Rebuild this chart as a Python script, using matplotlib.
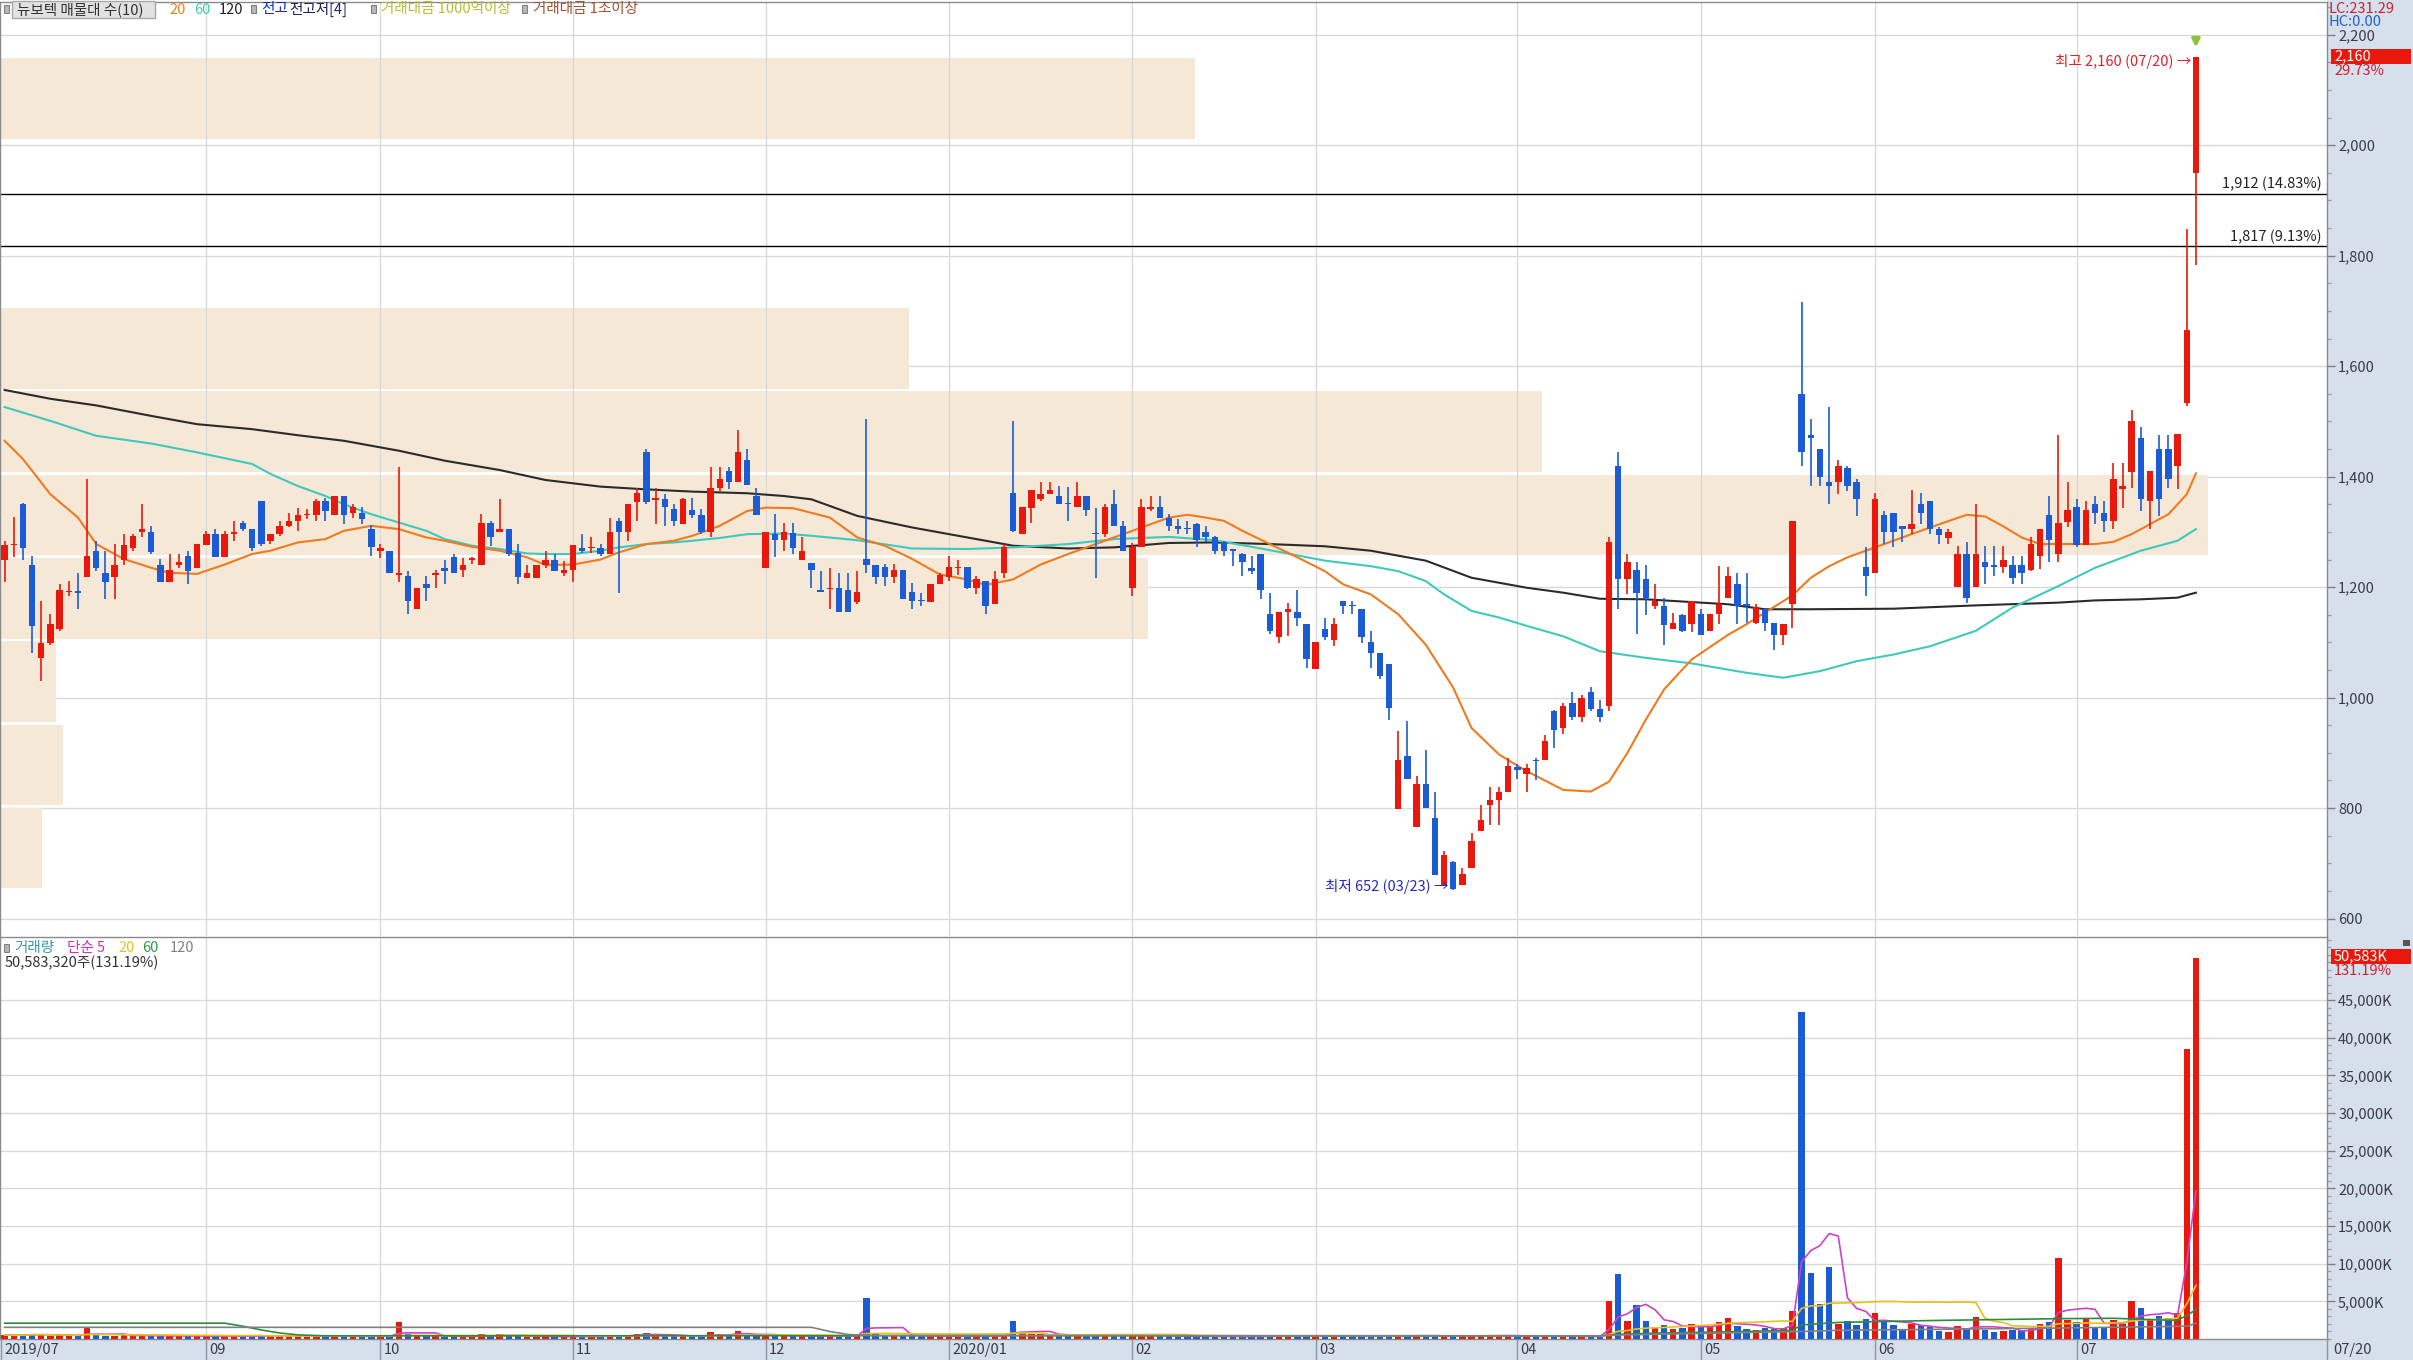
import numpy as np
import pandas as pd
import matplotlib
matplotlib.use("Agg")
import matplotlib.pyplot as plt
from matplotlib.patches import Rectangle
from matplotlib.lines import Line2D
import matplotlib.transforms as mtransforms
from matplotlib.ticker import MultipleLocator, FixedLocator, FuncFormatter

plt.rcParams['font.family'] = ['Noto Sans CJK KR', 'DejaVu Sans']

# ---------------- data ----------------
open_ = [1249,1276,1350,1240,1071,1099,1125,1191,1193,1219,1265,1226,1219,1249,1270,1299,1300,1240,1210,1240,
         1257,1235,1276,1296,1255,1296,1316,1305,1356,1284,1296,1311,1319,1330,1330,1356,1330,1365,1335,1335,
         1305,1265,1265,1222,1220,1160,1205,1222,1235,1255,1231,1250,1240,1316,1299,1305,1261,1216,1216,1240,
         1250,1225,1231,1270,1270,1270,1260,1320,1300,1355,1445,1358,1360,1341,1314,1340,1330,1300,1379,1411,
         1390,1430,1365,1235,1296,1285,1298,1250,1244,1195,1196,1199,1194,1173,1251,1240,1237,1218,1231,1191,
         1176,1173,1205,1218,1234,1237,1199,1211,1170,1225,1371,1296,1344,1359,1368,1365,1351,1345,1365,1297,
         1296,1350,1311,1199,1272,1342,1345,1326,1311,1306,1315,1299,1290,1281,1267,1260,1235,1260,1151,1110,
         1155,1155,1134,1051,1125,1105,1175,1167,1160,1101,1080,1060,798,894,766,844,782,661,702,661,
         691,758,806,815,830,874,861,888,888,975,945,990,965,1010,980,985,1420,1215,1231,1215,
         1166,1166,1125,1150,1134,1151,1121,1151,1181,1205,1170,1136,1161,1136,1114,1170,1550,1475,1450,1391,
         1390,1416,1391,1237,1225,1331,1335,1311,1305,1350,1356,1305,1289,1200,1260,1200,1245,1238,1237,1240,
         1240,1231,1257,1330,1260,1318,1345,1276,1350,1335,1319,1378,1409,1470,1356,1450,1450,1419,1534,1949]
high_ = [1284,1327,1352,1257,1175,1151,1205,1211,1226,1396,1284,1265,1278,1296,1296,1350,1311,1251,1260,1260,
         1266,1279,1302,1305,1302,1319,1320,1305,1356,1297,1320,1335,1344,1341,1360,1362,1365,1365,1350,1345,
         1313,1278,1265,1417,1229,1199,1220,1231,1250,1260,1253,1254,1332,1320,1360,1305,1278,1241,1241,1265,
         1260,1247,1276,1296,1290,1278,1326,1326,1350,1380,1450,1380,1368,1350,1362,1362,1341,1417,1417,1417,
         1484,1450,1380,1300,1332,1317,1317,1290,1244,1229,1235,1226,1226,1230,1504,1240,1242,1242,1231,1208,
         1190,1205,1226,1257,1250,1237,1220,1211,1230,1278,1501,1345,1376,1390,1390,1384,1381,1390,1365,1344,
         1350,1376,1320,1280,1359,1365,1365,1332,1323,1320,1317,1311,1293,1284,1269,1262,1257,1260,1190,1155,
         1172,1194,1134,1101,1145,1145,1175,1175,1160,1121,1080,1060,939,957,858,906,830,722,704,692,
         755,806,838,838,891,880,880,891,933,978,990,1010,1005,1020,995,1290,1445,1260,1245,1240,
         1205,1181,1154,1151,1175,1160,1151,1238,1237,1226,1226,1169,1161,1136,1134,1320,1716,1504,1450,1526,
         1430,1420,1396,1272,1371,1337,1335,1311,1375,1371,1356,1308,1305,1275,1281,1350,1275,1275,1275,1257,
         1257,1290,1305,1365,1476,1390,1359,1356,1365,1356,1425,1425,1520,1490,1411,1476,1476,1478,1849,2160]
low_ = [1210,1254,1250,1080,1030,1095,1120,1184,1160,1219,1229,1178,1178,1241,1266,1290,1260,1210,1210,1235,
        1205,1235,1276,1255,1255,1284,1302,1266,1275,1278,1293,1308,1302,1323,1320,1320,1330,1314,1326,1314,
        1257,1253,1225,1210,1151,1160,1175,1199,1205,1225,1219,1242,1240,1275,1299,1257,1205,1216,1216,1235,
        1229,1220,1210,1262,1262,1257,1260,1190,1284,1320,1351,1314,1310,1311,1314,1326,1296,1290,1374,1377,
        1390,1385,1330,1235,1254,1266,1260,1250,1199,1191,1160,1155,1155,1169,1225,1205,1202,1208,1178,1160,
        1166,1173,1205,1211,1222,1196,1187,1151,1170,1217,1299,1296,1317,1356,1368,1350,1320,1345,1329,1217,
        1290,1311,1266,1184,1272,1338,1326,1301,1296,1296,1272,1281,1260,1257,1239,1220,1223,1178,1115,1099,
        1112,1130,1054,1051,1105,1093,1151,1151,1099,1054,1034,960,798,853,766,800,679,661,652,661,
        691,758,770,770,830,852,830,850,888,909,935,960,955,975,955,975,1160,1187,1115,1150,
        1160,1096,1125,1118,1118,1114,1121,1133,1181,1133,1136,1133,1121,1087,1096,1126,1420,1383,1383,1350,
        1368,1374,1329,1184,1225,1278,1272,1281,1296,1314,1296,1278,1278,1200,1172,1200,1205,1220,1226,1205,
        1205,1229,1232,1245,1245,1308,1272,1276,1314,1299,1305,1344,1380,1338,1305,1329,1380,1378,1528,1784]
close_ = [1276,1279,1270,1130,1099,1134,1195,1193,1190,1257,1235,1210,1240,1276,1292,1305,1264,1210,1231,1246,
          1229,1279,1296,1255,1296,1300,1305,1270,1278,1296,1311,1320,1330,1332,1356,1338,1365,1330,1345,1324,
          1272,1270,1225,1225,1175,1199,1199,1226,1229,1225,1240,1252,1316,1290,1305,1260,1219,1225,1240,1250,
          1229,1231,1276,1265,1272,1260,1300,1300,1350,1370,1355,1362,1345,1320,1360,1330,1300,1379,1396,1391,
          1445,1385,1330,1300,1285,1300,1270,1266,1231,1191,1199,1155,1155,1191,1240,1218,1218,1231,1178,1175,
          1175,1205,1222,1237,1237,1199,1215,1166,1215,1272,1302,1345,1376,1368,1376,1350,1350,1365,1339,1296,
          1345,1311,1266,1272,1345,1345,1326,1311,1305,1305,1285,1290,1266,1266,1266,1245,1229,1194,1121,1155,
          1160,1145,1070,1101,1110,1134,1166,1166,1110,1080,1039,982,888,853,844,800,679,716,653,681,
          741,779,815,829,877,869,873,885,921,942,985,965,1000,980,965,1281,1214,1246,1190,1180,
          1175,1131,1136,1121,1175,1114,1151,1170,1220,1166,1166,1164,1136,1114,1134,1320,1444,1470,1399,1384,
          1420,1384,1359,1220,1359,1299,1299,1305,1315,1335,1305,1295,1299,1260,1181,1260,1237,1237,1250,1217,
          1226,1279,1305,1285,1316,1340,1276,1340,1335,1319,1396,1384,1500,1359,1411,1359,1396,1478,1665,2160]
volume_k = [520,480,560,700,620,450,500,380,400,1400,520,430,460,500,420,480,400,450,380,350,
            400,380,420,360,400,350,330,380,520,350,500,380,360,320,400,350,380,340,300,320,
            450,350,380,2300,600,400,380,350,330,360,300,280,600,450,650,400,420,330,320,300,
            310,280,400,330,300,290,450,500,550,700,800,450,400,380,420,350,380,900,600,500,
            1000,550,450,500,420,380,400,350,380,400,350,420,380,360,5500,700,500,420,450,400,
            350,380,360,400,330,380,350,420,400,500,2400,800,700,600,550,500,450,480,420,600,
            500,450,480,550,500,400,380,350,330,320,380,350,330,300,300,320,300,420,450,400,
            350,380,450,420,380,350,400,300,380,350,380,450,550,400,420,380,450,420,400,350,
            420,450,550,400,450,350,320,330,380,400,350,330,300,320,300,5100,8600,2400,4500,2400,
            1600,1800,1300,1500,2000,1600,1700,2300,2800,1700,1300,1200,1400,1300,1500,3700,43400,8800,4600,9500,
            2000,2400,1800,2600,3400,2200,1800,1300,2000,1800,1600,1000,900,1700,1400,2900,1200,900,1100,1200,
            1000,1500,2000,2300,10800,2500,2200,2600,1600,1500,2500,2000,5000,4100,2500,3000,2800,3400,38500,50583]

month_idx = [0, 22, 41, 62, 83, 103, 123, 143, 165, 185, 204, 226]
month_lbl = ['2019/07', '09', '10', '11', '12', '2020/01', '02', '03', '04', '05', '06', '07']
last_date = '07/20'

ma20_idx = [0, 2, 5, 8, 10, 13, 16, 18, 21, 24, 27, 29, 32, 35, 37, 40, 43, 46, 48, 51, 54, 57, 59, 62, 65, 67,
            70, 73, 75, 78, 81, 83, 86, 90, 93, 96, 99, 102, 105, 107, 110, 113, 116, 119, 121, 124, 127, 129,
            131, 133, 135, 138, 141, 144, 146, 149, 152, 155, 158, 160, 163, 166, 170, 173, 175, 177, 179, 181,
            184, 188, 190, 192, 195, 197, 199, 201, 204, 206, 208, 210, 214, 216, 218, 220, 222, 225, 228, 230,
            232, 234, 236, 238, 239]
ma20_val = [1465, 1432, 1368, 1326, 1278, 1251, 1235, 1226, 1224, 1241, 1260, 1266, 1281, 1287, 1302, 1311, 1305,
            1290, 1284, 1273, 1266, 1254, 1240, 1241, 1250, 1263, 1278, 1284, 1293, 1311, 1338, 1344, 1343, 1326,
            1290, 1275, 1251, 1223, 1214, 1204, 1214, 1241, 1260, 1278, 1290, 1308, 1326, 1331, 1326, 1320, 1302,
            1278, 1254, 1229, 1205, 1187, 1151, 1096, 1018, 945, 897, 867, 833, 830, 848, 900, 960, 1015, 1069,
            1114, 1133, 1154, 1185, 1217, 1238, 1254, 1272, 1284, 1296, 1308, 1331, 1328, 1310, 1290, 1278, 1278,
            1278, 1282, 1296, 1314, 1332, 1368, 1406]
ma60_idx = [0, 5, 10, 16, 21, 27, 29, 32, 35, 37, 40, 43, 46, 48, 51, 54, 57, 59, 62, 65, 67, 70, 73, 75, 78, 81,
            85, 88, 93, 99, 105, 110, 116, 121, 127, 132, 138, 144, 149, 152, 155, 157, 160, 163, 166, 170, 174,
            179, 184, 190, 194, 198, 202, 206, 210, 215, 219, 224, 228, 233, 235, 237, 239]
ma60_val = [1526, 1501, 1474, 1460, 1444, 1423, 1405, 1383, 1365, 1350, 1332, 1317, 1302, 1287, 1275, 1269, 1261,
            1260, 1260, 1266, 1272, 1278, 1281, 1284, 1289, 1296, 1297, 1293, 1285, 1270, 1269, 1272, 1278, 1287,
            1291, 1285, 1267, 1248, 1238, 1229, 1211, 1187, 1157, 1145, 1130, 1111, 1084, 1072, 1062, 1045, 1036,
            1048, 1066, 1078, 1093, 1121, 1163, 1202, 1235, 1266, 1275, 1284, 1305]
ma120_idx = [0, 5, 10, 16, 21, 27, 32, 37, 43, 48, 54, 59, 65, 70, 75, 81, 85, 88, 93, 99, 105, 110, 116, 121,
             127, 132, 138, 144, 149, 155, 160, 166, 170, 174, 179, 188, 192, 197, 206, 215, 224, 228, 233, 237, 239]
ma120_val = [1557, 1541, 1529, 1510, 1495, 1486, 1475, 1465, 1447, 1429, 1412, 1394, 1382, 1377, 1373, 1370, 1365,
             1359, 1329, 1308, 1290, 1275, 1270, 1272, 1280, 1281, 1278, 1274, 1266, 1248, 1217, 1199, 1190, 1179,
             1178, 1169, 1160, 1160, 1161, 1167, 1172, 1176, 1178, 1181, 1190]

vma60_idx = [0, 24, 26, 28, 30, 32, 35, 60, 100, 140, 174, 176, 180, 190, 195, 196, 200, 210, 224, 230, 236, 237, 238, 239]
vma60_val = [2100, 2100, 1700, 1200, 800, 550, 420, 420, 450, 420, 410, 630, 780, 1000, 1150, 1870, 2200, 2450,
             2700, 2750, 2500, 2500, 3100, 3900]
vma120_idx = [0, 88, 90, 92, 95, 120, 174, 176, 196, 200, 224, 238, 239]
vma120_val = [1550, 1550, 1000, 600, 450, 450, 430, 530, 1000, 1150, 1450, 1700, 2100]

profile_vol_k = [1760, 2670, 2350, 48600, 93500, 65300, 38500, 0, 0, 50583]   # bottom band -> top band
profile_low, profile_high = 652, 2160

price_ticks = [600, 800, 1000, 1200, 1400, 1600, 1800, 2000, 2200]
vol_ticks = [5000, 10000, 15000, 20000, 25000, 30000, 35000, 40000, 45000]

level_lines = [1912, 1817]
level_labels = ['1,912 (14.83%)', '1,817 (9.13%)']

# ---------------- layout ----------------
W, H = 2413, 1360
AX_R = 2327
fig = plt.figure(figsize=(W / 100, H / 100), dpi=100)
fig.patch.set_facecolor('white')

RED = '#E8190C'
BLUE = '#1B5CD4'
BEIGE = '#F6E8D7'
GRID = '#D9D9D9'
BAND = '#D6E0EC'
LBL = '#3A3A4A'


def fx(x):
    return x / W


def fy(y):
    return 1 - y / H


def frect(x, y, w, h, **kw):
    r = Rectangle((fx(x), fy(y + h)), w / W, h / H, transform=fig.transFigure, **kw)
    fig.add_artist(r)
    return r


def ftext(x, y, s, **kw):
    kw.setdefault('va', 'center')
    kw.setdefault('ha', 'left')
    return fig.text(fx(x), fy(y), s, **kw)


# background bands (right axis strip + bottom date strip)
frect(AX_R, 0, W - AX_R, H, facecolor=BAND, edgecolor='none', zorder=0)
frect(0, 1339, W, 21, facecolor=BAND, edgecolor='none', zorder=0)

ax = fig.add_axes([0, (H - 936) / H, AX_R / W, 934 / H])
axv = fig.add_axes([0, 21 / H, AX_R / W, (1339 - 937) / H])

n = len(close_)
x = np.arange(n)
o = np.array(open_, float)
hi = np.array(high_, float)
lo = np.array(low_, float)
c = np.array(close_, float)
up = c >= o
cols = np.where(up, RED, BLUE)

XMIN, XMAX = -0.5, 253.3
for a in (ax, axv):
    a.set_xlim(XMIN, XMAX)
    a.set_facecolor('white')
    a.set_xticks([])
    for s in a.spines.values():
        s.set_color('#8A8A8A')
        s.set_linewidth(1)
ax.spines['bottom'].set_visible(False)

ax.set_ylim(568.5, 2259.3)
axv.set_ylim(0, 53370)

# grid
for m in month_idx[1:]:
    ax.axvline(m, color=GRID, lw=1, zorder=1)
    axv.axvline(m, color=GRID, lw=1, zorder=1)
for p in price_ticks:
    ax.axhline(p, color=GRID, lw=1, zorder=0.3)
for v in vol_ticks:
    axv.axhline(v, color=GRID, lw=1, zorder=0.3)

# volume profile (매물대)
edges = np.linspace(profile_low, profile_high, len(profile_vol_k) + 1)
binh = edges[1] - edges[0]
span = XMAX - XMIN
pw = np.array(profile_vol_k, float) / max(profile_vol_k) * 0.949 * span
ax.barh(edges[:-1] + 2.5, pw, height=binh - 5, left=XMIN, align='edge', color=BEIGE, lw=0, zorder=0.5)

# moving averages
ax.plot(ma120_idx, ma120_val, color='#2B2B2B', lw=1.5, zorder=2)
ax.plot(ma60_idx, ma60_val, color='#3EC9BE', lw=1.5, zorder=2)
ax.plot(ma20_idx, ma20_val, color='#F07A1E', lw=1.5, zorder=2)

# level lines
blend = mtransforms.blended_transform_factory(ax.transAxes, ax.transData)
for lv, lt in zip(level_lines, level_labels):
    ax.axhline(lv, color='black', lw=1.0, zorder=2.5)
    ax.text(0.9978, lv + 4, lt, transform=blend, ha='right', va='bottom', fontsize=10.5, color='#222222')

# candles
ax.vlines(x, lo, hi, colors=cols, lw=1.2, zorder=3)
body_b = np.minimum(o, c)
body_h = np.maximum(np.abs(c - o), 2.5)
ax.bar(x, body_h, bottom=body_b, width=0.7, color=cols, lw=0, zorder=4)

# annotations
ax.text(238.5, 2152, '최고 2,160 (07/20) →', ha='right', va='center', fontsize=10.5, color='#E0202A', zorder=5)
ax.text(157.5, 658, '최저 652 (03/23) →', ha='right', va='center', fontsize=10.5, color='#2828C8', zorder=5)
ax.annotate('', xy=(239, 2172), xytext=(239, 2200),
            arrowprops=dict(arrowstyle='-|>', color='#8DC43E', lw=2.5, mutation_scale=11), zorder=5)

# price axis ticks (right)
ax.yaxis.tick_right()
ax.yaxis.set_major_locator(FixedLocator(price_ticks))
ax.yaxis.set_minor_locator(MultipleLocator(50))
ax.yaxis.set_major_formatter(FuncFormatter(lambda v, _: f'{int(v):,}'))
ax.tick_params(axis='y', which='major', direction='out', length=6, width=1, color='#808080',
               labelsize=10.5, labelcolor=LBL, pad=2)
ax.tick_params(axis='y', which='minor', direction='out', length=3, width=1, color='#A0A0A0')

# volume bars + MAs
axv.bar(x, volume_k, width=0.7, color=cols, lw=0, zorder=3)
vs = pd.Series(volume_k, dtype=float)
axv.plot(x, vs.rolling(5, min_periods=1).mean(), color='#D040C8', lw=1.2, zorder=4)
axv.plot(x, vs.rolling(20, min_periods=1).mean(), color='#E6C21E', lw=1.2, zorder=4)
axv.plot(vma60_idx, vma60_val, color='#2E8B3E', lw=1.2, zorder=4)
axv.plot(vma120_idx, vma120_val, color='#808080', lw=1.2, zorder=4)

axv.yaxis.tick_right()
axv.yaxis.set_major_locator(FixedLocator(vol_ticks))
axv.yaxis.set_minor_locator(MultipleLocator(1000))
axv.yaxis.set_major_formatter(FuncFormatter(lambda v, _: f'{int(v):,}K'))
axv.tick_params(axis='y', which='major', direction='out', length=6, width=1, color='#808080',
                labelsize=10.5, labelcolor=LBL, pad=2)
axv.tick_params(axis='y', which='minor', direction='out', length=3, width=1, color='#A0A0A0')

# date strip labels
bt = mtransforms.blended_transform_factory(axv.transData, fig.transFigure)
for m, lab in zip(month_idx, month_lbl):
    xm = m if m > 0 else XMIN + 0.15
    fig.add_artist(Line2D([xm, xm], [0, 21 / H], transform=bt, color='#8A96A6', lw=1))
    fig.text(xm + 0.35, fy(1350), lab, transform=bt, ha='left', va='center', fontsize=10.5, color=LBL)
ftext(2333, 1350, last_date, fontsize=10.5, color=LBL)
fig.add_artist(Line2D([fx(AX_R), fx(AX_R)], [0, 21 / H], transform=fig.transFigure, color='#8A96A6', lw=1))

# top legend
def icon(xp, yp):
    frect(xp, yp - 4, 5, 8, facecolor='#B8B8B8', edgecolor='#808080', lw=0.8, zorder=6)

icon(4, 9)
frect(12, 1, 143, 17, facecolor='#E2E2E2', edgecolor='#A8A8A8', lw=1, zorder=5)
ftext(17, 9.5, '뉴보텍 매물대 수(10)', fontsize=10.5, color='#333333', zorder=7)
ftext(169, 9.5, '20', fontsize=10.5, color='#F07A1E')
ftext(194, 9.5, '60', fontsize=10.5, color='#3EC9BE')
ftext(219, 9.5, '120', fontsize=10.5, color='#222222')
icon(251, 9)
ftext(261, 9.5, '전고', fontsize=10.5, color='#1030C0')
ftext(289, 9.5, '전고저[4]', fontsize=10.5, color='#202060')
icon(371, 9)
ftext(381, 9.5, '거래대금 1000억이상', fontsize=10.5, color='#B5BE2E')
icon(522, 9)
ftext(533, 9.5, '거래대금 1조이상', fontsize=10.5, color='#A0522D')

# volume legend
icon(4, 948)
ftext(14, 948, '거래량', fontsize=10.5, color='#3A9AA0')
ftext(67, 948, '단순 5', fontsize=10.5, color='#D030C0')
ftext(118, 948, '20', fontsize=10.5, color='#E6C21E')
ftext(142, 948, '60', fontsize=10.5, color='#2E9A48')
ftext(170, 948, '120', fontsize=10.5, color='#808080')
ftext(5, 963, '50,583,320주(131.19%)', fontsize=10.5, color='#333333')

# right strip info
ftext(2329, 9, 'LC:231.29', fontsize=10.5, color='#D0202E', zorder=7)
ftext(2329, 22, 'HC:0.00', fontsize=10.5, color='#2060C8', zorder=7)
frect(2331, 49, 80, 15, facecolor=RED, edgecolor='none', zorder=6)
ftext(2334, 56.5, '2,160', fontsize=10.5, color='white', zorder=7)
ftext(2334, 71, '29.73%', fontsize=10.5, color='#D0202E', zorder=7)
frect(2331, 949, 80, 15, facecolor=RED, edgecolor='none', zorder=6)
ftext(2334, 956.5, '50,583K', fontsize=10.5, color='white', zorder=7)
ftext(2334, 971, '131.19%', fontsize=10.5, color='#D0202E', zorder=7)
frect(2403, 940, 7, 6, facecolor='#555555', edgecolor='none', zorder=7)

fig.savefig('out.png', dpi=100, facecolor='white')
